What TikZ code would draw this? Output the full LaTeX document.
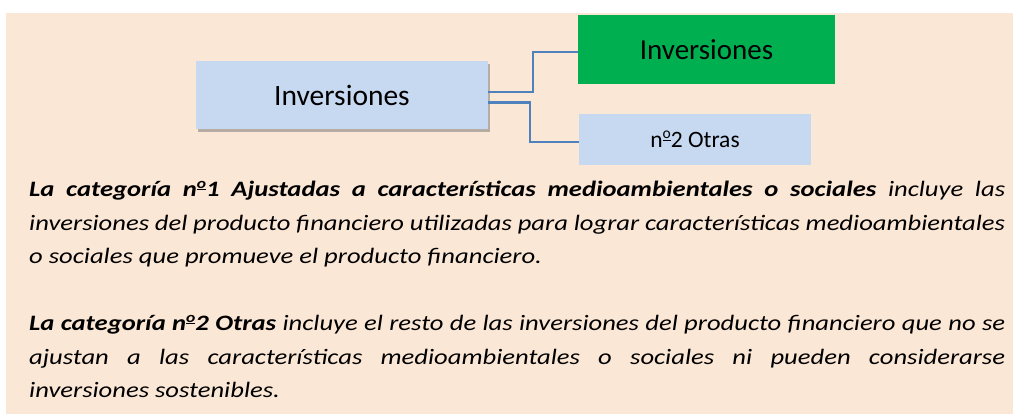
\documentclass[tikz,border=0pt]{standalone}
\usepackage{fontspec}
\setmainfont{Carlito}
\newfontfamily\parafont[FakeStretch=1.21]{Carlito}
\usetikzlibrary{shadows}
\definecolor{bgbeige}{HTML}{FBE7D6}
\definecolor{lblue}{HTML}{C6D9F1}
\definecolor{vgreen}{HTML}{00B050}
\definecolor{lineblue}{HTML}{4F81BD}
\newcommand\myord{\raisebox{0.8ex}{\scalebox{0.66}{\underline{o}}}}
\begin{document}
\begin{tikzpicture}[x=1pt,y=-1pt,
  box/.style={fill=lblue, inner sep=0pt, outer sep=0pt},
  conn/.style={draw=lineblue, line width=2.6pt}]
\useasboundingbox (0,0) rectangle (1013,414);
\fill[white] (0,0) rectangle (1013,414);
\fill[bgbeige] (6,13) rectangle (1013,414);
\node[box, minimum width=292pt, minimum height=68pt,
  drop shadow={shadow xshift=2pt, shadow yshift=-3pt, opacity=0.45, fill=black!60}]
  (lb) at (342,95.5) {\fontsize{29.5}{32}\selectfont Inversiones};
\node[box, fill=vgreen, minimum width=257pt, minimum height=69pt]
  (g) at (706.5,49.5) {\fontsize{29}{32}\selectfont Inversiones};
\node[box, minimum width=232pt, minimum height=51pt]
  (s) at (695,139.5) {\fontsize{23.5}{26}\selectfont n\myord2 Otras};
\draw[conn] ([yshift=3.5pt]lb.east) -- ++(45,0) |- ([yshift=-2.5pt]g.west);
\draw[conn] ([yshift=-7pt]lb.east) -- ++(42,0) |- ([yshift=-2.5pt]s.west);
\node[anchor=north west, inner sep=0pt, text width=976pt, align=justify] (txt) at (29,181)
{\parafont\fontsize{22}{33.5}\selectfont\itshape
\textbf{La categoría n\myord1 Ajustadas a características medioambientales o sociales} incluye las\linebreak
inversiones del producto financiero utilizadas para lograr características medioambientales\linebreak
o sociales que promueve el producto financiero.\par\vskip33.5pt
\textbf{La categoría n\myord2 Otras} incluye el resto de las inversiones del producto financiero que no se\linebreak
ajustan a las características medioambientales o sociales ni pueden considerarse\linebreak
inversiones sostenibles.\par};
\end{tikzpicture}
\end{document}
